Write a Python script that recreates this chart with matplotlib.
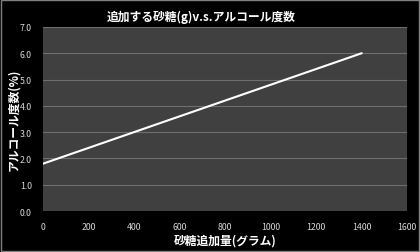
import matplotlib.pyplot as plt
from matplotlib.patches import Rectangle

plt.rcParams['font.family'] = ['Noto Sans CJK JP', 'DejaVu Sans']

# データ
sugar_g = [0, 200, 400, 600, 800, 1000, 1200, 1400]
alcohol_pct = [1.8, 2.4, 3.0, 3.6, 4.2, 4.8, 5.4, 6.0]
x_ticks = [0, 200, 400, 600, 800, 1000, 1200, 1400, 1600]
y_ticks = [0.0, 1.0, 2.0, 3.0, 4.0, 5.0, 6.0, 7.0]

fig = plt.figure(figsize=(4.2, 2.53), dpi=100, facecolor='black')
ax = fig.add_axes([43 / 420, 1 - 212 / 253, 364 / 420, 184 / 253])
ax.set_facecolor('#404040')

ax.plot(sugar_g, alcohol_pct, color='white', lw=1.5)

ax.set_xlim(0, 1600)
ax.set_ylim(0, 7)
ax.set_xticks(x_ticks)
ax.set_yticks(y_ticks)
ax.set_yticklabels([f'{v:.1f}' for v in y_ticks])
ax.tick_params(colors='#d9d9d9', labelsize=6.3, length=0, pad=8)
ax.grid(axis='y', color='#6e6e6e', lw=0.8)
ax.set_axisbelow(True)
for s in ax.spines.values():
    s.set_visible(False)

fig.text(201 / 420, 1 - 17 / 253, '追加する砂糖(g)v.s.アルコール度数', color='white',
         fontsize=8.5, fontweight='bold', ha='center', va='center')
ax.set_xlabel('砂糖追加量(グラム)', color='white', fontsize=8.5,
              fontweight='bold', labelpad=2)
ax.set_ylabel('アルコール度数(%)', color='white', fontsize=8.5,
              fontweight='bold', va='center')
ax.yaxis.set_label_coords(-29 / 364, 0.5)

# 外枠
fig.patches.append(Rectangle((0.002, 0.003), 0.995, 0.993, transform=fig.transFigure,
                             fill=False, edgecolor='#808080', lw=1))

fig.savefig('out.png', dpi=100, facecolor='black')
